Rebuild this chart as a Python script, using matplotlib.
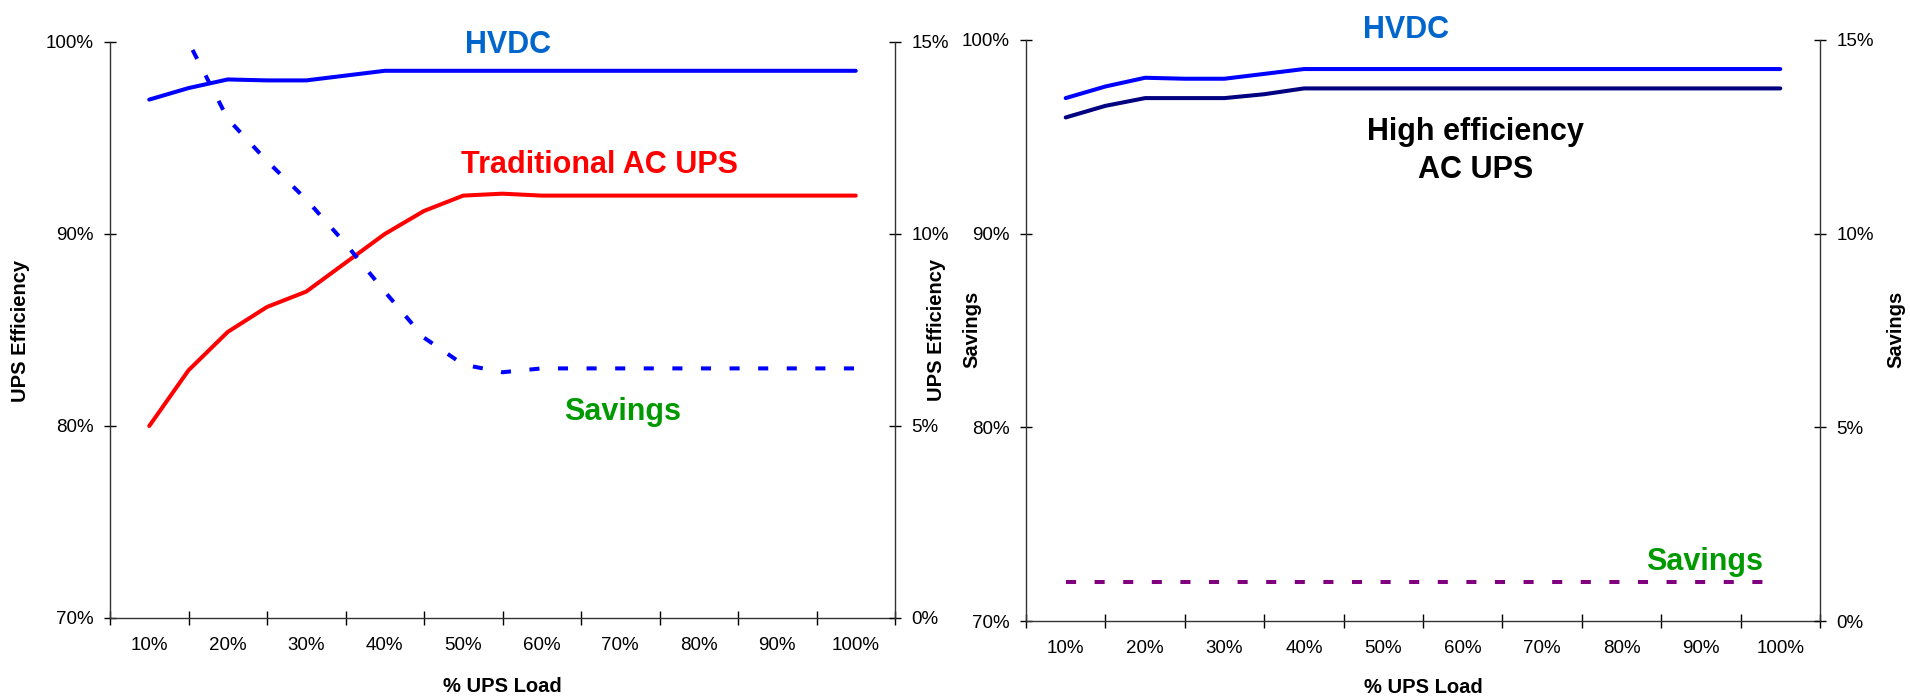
import matplotlib
matplotlib.use('Agg')
import matplotlib.pyplot as plt
from matplotlib.ticker import FuncFormatter

plt.rcParams['font.family'] = ['Liberation Sans', 'DejaVu Sans']

# % UPS load (every 5%), labels every 10%
load = [10, 15, 20, 25, 30, 35, 40, 45, 50, 55, 60, 65, 70, 75, 80, 85, 90, 95, 100]
load_labels = ['10%', '20%', '30%', '40%', '50%', '60%', '70%', '80%', '90%', '100%']

# efficiency (%)
hvdc = [97.0, 97.6, 98.05, 98.0, 98.0, 98.25, 98.5, 98.5, 98.5, 98.5,
        98.5, 98.5, 98.5, 98.5, 98.5, 98.5, 98.5, 98.5, 98.5]
trad_ac = [80.0, 82.9, 84.9, 86.2, 87.0, 88.5, 90.0, 91.2, 92.0, 92.1,
           92.0, 92.0, 92.0, 92.0, 92.0, 92.0, 92.0, 92.0, 92.0]
high_eff_ac = [96.0, 96.6, 97.0, 97.0, 97.0, 97.2, 97.5, 97.5, 97.5, 97.5,
               97.5, 97.5, 97.5, 97.5, 97.5, 97.5, 97.5, 97.5, 97.5]

# savings (%), right axis
savings_trad = [17.0, 15.0, 13.0, 11.9, 10.9, 9.75, 8.5, 7.3, 6.6, 6.4,
                6.5, 6.5, 6.5, 6.5, 6.5, 6.5, 6.5, 6.5, 6.5]
savings_high = [1.0, 1.0, 1.0, 1.0, 1.0, 1.0, 1.0, 1.0, 1.0, 1.0,
                1.0, 1.0, 1.0, 1.0, 1.0, 1.0, 1.0, 1.0, 1.0]

W, H = 1910, 696
fig = plt.figure(figsize=(W / 100, H / 100), dpi=100)
fig.patch.set_facecolor('white')

ax1 = fig.add_axes([110 / W, (H - 618) / H, 785 / W, 576 / H])
ax2 = fig.add_axes([1026 / W, (H - 621) / H, 794 / W, 581 / H])

pct = FuncFormatter(lambda v, p: f'{int(v)}%')
LW = 2.9
DASH = (2.5, 4.6)


def style(ax):
    axr = ax.twinx()
    ax.set_xlim(5, 105)
    ax.set_ylim(70, 100)
    axr.set_ylim(0, 15)
    ax.set_xticks(range(5, 106, 10))
    ax.set_xticklabels([])
    ax.set_xticks(load[::2], minor=True)
    ax.set_xticklabels(load_labels, minor=True)
    ax.tick_params(axis='x', which='major', direction='inout', length=9.5, width=1)
    ax.tick_params(axis='x', which='minor', length=0, pad=14, labelsize=13.5)
    ax.set_yticks([70, 80, 90, 100])
    ax.yaxis.set_major_formatter(pct)
    ax.tick_params(axis='y', direction='inout', length=8, width=1, pad=8, labelsize=13.5)
    axr.set_yticks([0, 5, 10, 15])
    axr.yaxis.set_major_formatter(pct)
    axr.tick_params(axis='y', direction='inout', length=8, width=1, pad=8, labelsize=13.5)
    for a in (ax, axr):
        a.spines['top'].set_visible(False)
        for s in a.spines.values():
            s.set_color('#333333')
            s.set_linewidth(1)
    ax.spines['right'].set_visible(False)
    axr.spines['left'].set_visible(False)
    axr.spines['bottom'].set_visible(False)
    return axr


# left panel: HVDC vs traditional AC UPS
ax1r = style(ax1)
ax1.plot(load, hvdc, color='#0000FF', lw=LW, solid_capstyle='round', solid_joinstyle='round')
ax1.plot(load, trad_ac, color='#FF0000', lw=LW, solid_capstyle='round', solid_joinstyle='round')
ax1r.plot(load, savings_trad, color='#0000FF', lw=LW, linestyle=(0, DASH), dash_capstyle='butt')

ax1.text(55.7, 99.42, 'HVDC', color='#0066CC', fontsize=22, fontweight='bold', ha='center', va='baseline')
ax1.text(67.35, 93.16, 'Traditional AC UPS', color='#FF0000', fontsize=22, fontweight='bold',
         ha='center', va='baseline')
ax1.text(70.35, 80.31, 'Savings', color='#009900', fontsize=22, fontweight='bold', ha='center', va='baseline')

# right panel: HVDC vs high efficiency AC UPS
ax2r = style(ax2)
ax2.plot(load, hvdc, color='#0000FF', lw=LW, solid_capstyle='round', solid_joinstyle='round')
ax2.plot(load, high_eff_ac, color='#000080', lw=LW, solid_capstyle='round', solid_joinstyle='round')
ax2r.plot(load, savings_high, color='#800080', lw=LW, linestyle=(0, DASH), dash_capstyle='butt')

ax2.text(52.9, 100.1, 'HVDC', color='#0066CC', fontsize=22, fontweight='bold', ha='center', va='baseline',
         clip_on=False)
ax2.text(61.6, 94.84, 'High efficiency', color='black', fontsize=22, fontweight='bold', ha='center', va='baseline')
ax2.text(61.6, 92.87, 'AC UPS', color='black', fontsize=22, fontweight='bold', ha='center', va='baseline')
ax2.text(90.5, 72.63, 'Savings', color='#009900', fontsize=22, fontweight='bold', ha='center', va='baseline')

# axis titles
lab = dict(fontsize=14.5, fontweight='bold', ha='center', va='center', rotation=90)
fig.text(20 / W, 1 - 331 / H, 'UPS Efficiency', **lab)
fig.text(936 / W, 1 - 330 / H, 'UPS Efficiency', **lab)
fig.text(972 / W, 1 - 329 / H, 'Savings', **lab)
fig.text(1896 / W, 1 - 329 / H, 'Savings', **lab)
fig.text(502 / W, (H - 692) / H, '% UPS Load', fontsize=14.5, fontweight='bold', ha='center', va='baseline')
fig.text(1423 / W, (H - 693) / H, '% UPS Load', fontsize=14.5, fontweight='bold', ha='center', va='baseline')

fig.savefig('out.png', dpi=100, facecolor='white')
